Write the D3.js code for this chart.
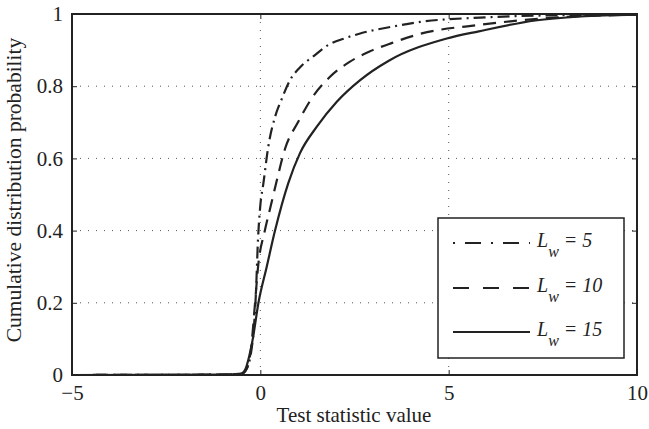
<!DOCTYPE html>
<html><head><meta charset="utf-8">
<script src="https://cdn.jsdelivr.net/npm/d3@7"></script>
<style>
body{margin:0;background:#fff;}
</style></head>
<body><svg id="c" width="649" height="429"></svg>
<script>
const FONT="Liberation Serif";
const xTicks=[-5,0,5,10];
const yTicks=[0,0.2,0.4,0.6,0.8,1];
const yTickLabels=["0","0.2","0.4","0.6","0.8","1"];
const seriesNames=["5","10","15"];
const x5=[-5,-1,-0.5,-0.35,-0.25,-0.18,-0.12,-0.06,0,0.08,0.21,0.39,0.57,0.79,1.05,1.45,1.8,2.25,2.65,3.5,4.24,5.83,7.5,10];
const y5=[0,0.001,0.003,0.02,0.06,0.12,0.22,0.38,0.47,0.53,0.632,0.715,0.765,0.817,0.852,0.886,0.914,0.933,0.946,0.965,0.978,0.99,0.996,0.999];
const x10=[-5,-1,-0.5,-0.35,-0.25,-0.14,-0.06,0.12,0.28,0.44,0.66,1.01,1.36,1.85,2.38,2.9,3.5,4.24,5.83,7.8,10];
const y10=[0,0.001,0.003,0.02,0.07,0.2,0.3,0.4,0.47,0.54,0.628,0.702,0.766,0.826,0.868,0.896,0.92,0.945,0.97,0.99,0.998];
const x15=[-5,-1,-0.5,-0.4,-0.3,-0.2,-0.05,0.17,0.39,0.74,1.05,1.5,2.03,2.65,3.4,4.95,5.8,7.3,8.5,10];
const y15=[0,0.001,0.004,0.015,0.05,0.1,0.2,0.3,0.4,0.531,0.614,0.688,0.757,0.817,0.87,0.932,0.952,0.982,0.993,0.998];
const dashes=["12,5,2,5","13,8",null];
const X=[x5,x10,x15], Y=[y5,y10,y15];

const svg=d3.select("#c");
const L=72,R=637,T=14,B=375;
const x=d3.scaleLinear().domain([-5,10]).range([L,R]);
const y=d3.scaleLinear().domain([0,1]).range([B,T]);

const g=svg.append("g");
g.selectAll(".gx").data(xTicks.slice(1,-1)).enter().append("line")
 .attr("x1",d=>x(d)).attr("x2",d=>x(d)).attr("y1",T).attr("y2",B)
 .attr("stroke","#555").attr("stroke-width",1).attr("stroke-dasharray","1,7");
g.selectAll(".gy").data(yTicks.slice(1,-1)).enter().append("line")
 .attr("y1",d=>y(d)).attr("y2",d=>y(d)).attr("x1",L).attr("x2",R)
 .attr("stroke","#555").attr("stroke-width",1).attr("stroke-dasharray","1,7");

const axB=d3.axisBottom(x).tickValues(xTicks).tickSize(-5).tickPadding(10).tickFormat(d=>d<0?"\u2212"+Math.abs(d):d);
const axT=d3.axisTop(x).tickValues(xTicks).tickSize(-5).tickFormat("");
const axL=d3.axisLeft(y).tickValues(yTicks).tickSize(-5).tickPadding(9).tickFormat((d,i)=>yTickLabels[i]);
const axR=d3.axisRight(y).tickValues(yTicks).tickSize(-5).tickFormat("");
function style(sel){sel.attr("font-family",FONT).attr("font-size",21);sel.select(".domain").remove();sel.selectAll("line").attr("stroke","#222");sel.selectAll("text").attr("fill","#222");}
svg.append("g").attr("transform",`translate(0,${B})`).call(axB).call(style);
svg.append("g").attr("transform",`translate(0,${T})`).call(axT).call(style);
svg.append("g").attr("transform",`translate(${L},0)`).call(axL).call(style);
svg.append("g").attr("transform",`translate(${R},0)`).call(axR).call(style);
svg.append("rect").attr("x",L).attr("y",T).attr("width",R-L).attr("height",B-T)
 .attr("fill","none").attr("stroke","#222").attr("stroke-width",2);

const line=d3.line().x(d=>x(d[0])).y(d=>y(d[1])).curve(d3.curveMonotoneX);
X.forEach((xs,i)=>{
  const pts=xs.map((v,j)=>[v,Y[i][j]]);
  svg.append("path").datum(pts).attr("d",line)
   .attr("fill","none").attr("stroke","#222").attr("stroke-width",2.2)
   .attr("stroke-dasharray",dashes[i]);
});

svg.append("text").attr("x",354).attr("y",422).attr("text-anchor","middle").attr("font-family",FONT).attr("font-size",21).attr("fill","#222").text("Test statistic value");
svg.append("text").attr("transform","translate(21,190) rotate(-90)").attr("text-anchor","middle").attr("font-family",FONT).attr("font-size",21.5).attr("fill","#222").text("Cumulative distribution probability");

const lg=svg.append("g");
lg.append("rect").attr("x",438).attr("y",218).attr("width",186).attr("height",140)
 .attr("fill","#fff").attr("stroke","#222").attr("stroke-width",1.5);
const ly=[243,288,332];
seriesNames.forEach((n,i)=>{
  lg.append("line").attr("x1",453).attr("x2",530).attr("y1",ly[i]).attr("y2",ly[i])
   .attr("stroke","#222").attr("stroke-width",2.2).attr("stroke-dasharray",i==0?"2,10,16,10":(i==1?"16,14":null));
  const t=lg.append("text").attr("x",537).attr("y",ly[i]+4).attr("font-family",FONT).attr("font-size",20).attr("font-style","italic").attr("fill","#222");
  t.append("tspan").text("L");
  t.append("tspan").attr("dy",10).attr("font-size",16).text("w");
  t.append("tspan").attr("dy",-10).attr("dx",5).text("= "+n);
});
</script></body></html>
